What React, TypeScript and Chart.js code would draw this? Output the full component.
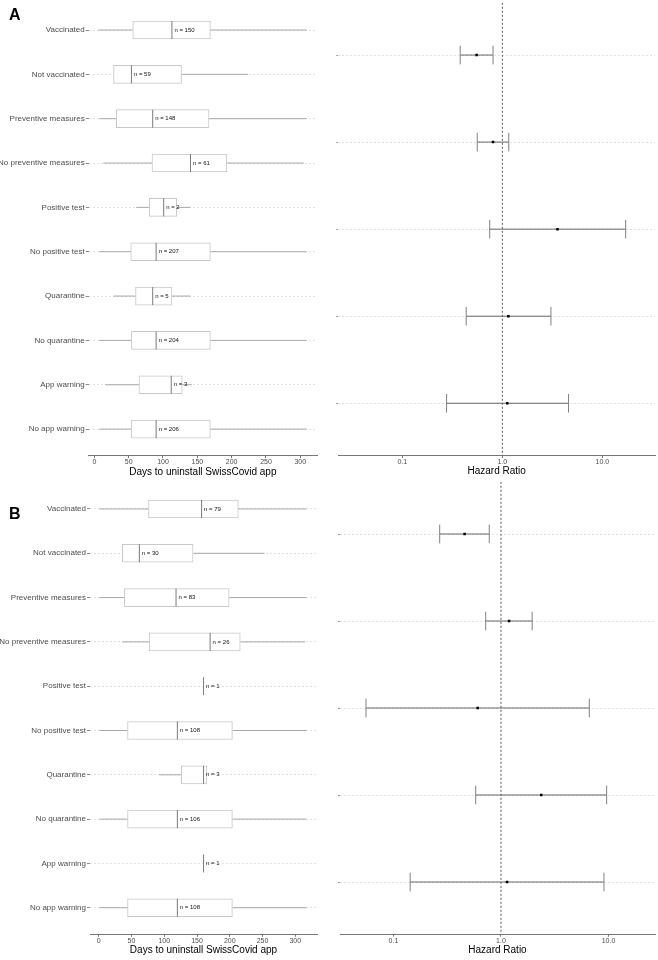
import React, { useEffect, useRef } from "react";
import { Chart, registerables } from "chart.js";

Chart.register(...registerables);

const FONT = "'Liberation Sans', Arial, Helvetica, sans-serif";
Chart.defaults.font.family = FONT;

// ---------- data ----------
const categories = [
  "Vaccinated",
  "Not vaccinated",
  "Preventive measures",
  "No preventive measures",
  "Positive test",
  "No positive test",
  "Quarantine",
  "No quarantine",
  "App warning",
  "No app warning",
];

const daysTicks = [0, 50, 100, 150, 200, 250, 300];
const hrTicks = [0.1, 1, 10];
const hrTickLabels = ["0.1", "1.0", "10.0"];

// Panel A – days to uninstall (box plot summaries)
const nA = [150, 59, 148, 61, 2, 207, 5, 204, 3, 206];
const minA = [6, 28, 7, 13, 61, 7, 28, 7, 16, 7];
const q1A = [56, 28, 32, 84, 80, 53, 60, 54, 65, 54];
const medA = [113, 54, 85, 140, 101, 90, 85, 90, 112, 90];
const q3A = [169, 127, 167, 193, 120, 169, 113, 169, 128, 169];
const maxA = [309, 224, 309, 305, 140, 309, 140, 309, 142, 309];

// Panel B – days to uninstall (box plot summaries)
const nB = [79, 30, 83, 26, 1, 108, 3, 106, 1, 108];
const minB = [1, 36, 1, 36, 160, 1, 92, 1, 160, 1];
const q1B = [76, 36, 39, 77, 160, 44, 126, 44, 160, 44];
const medB = [157, 62, 118, 170, 160, 120, 160, 120, 160, 120];
const q3B = [213, 144, 199, 216, 160, 204, 165, 204, 160, 204];
const maxB = [317, 253, 317, 315, 160, 317, 165, 317, 160, 317];

// Hazard ratios (5 comparisons each)
const hrA = [0.553, 0.807, 3.56, 1.15, 1.12];
const loA = [0.379, 0.561, 0.748, 0.435, 0.277];
const hiA = [0.807, 1.159, 17.1, 3.06, 4.59];

const hrB = [0.459, 1.19, 0.607, 2.37, 1.14];
const loB = [0.269, 0.721, 0.0555, 0.582, 0.143];
const hiB = [0.778, 1.95, 6.63, 9.62, 9.08];

// ---------- configs ----------
type BoxPanel = {
  n: number[];
  min: number[];
  q1: number[];
  med: number[];
  q3: number[];
  max: number[];
  xMin: number;
  xMax: number;
  padTop: number;
  padRight: number;
  yWidth: number;
  xHeight: number;
  titlePad: number;
};

function nLabelPlugin(n: number[], med: number[]) {
  return {
    id: "nLabels",
    afterDatasetsDraw(chart: any) {
      const { ctx, scales } = chart;
      const x = scales.x;
      const y = scales.y;
      ctx.save();
      ctx.font = `6px ${FONT}`;
      ctx.fillStyle = "#111111";
      ctx.textBaseline = "middle";
      ctx.textAlign = "left";
      n.forEach((v, i) => {
        ctx.fillText(`n = ${v}`, x.getPixelForValue(med[i]) + 2.5, y.getPixelForValue(i));
      });
      ctx.restore();
    },
  };
}

function fitX(h: number) {
  return (s: any) => {
    s.height = h;
    s.paddingLeft = 0;
    s.paddingRight = 0;
  };
}
function fitY(w: number) {
  return (s: any) => {
    s.width = w;
    s.paddingTop = 0;
    s.paddingBottom = 0;
  };
}

function boxConfig(d: BoxPanel): any {
  const whiskers: any[] = [];
  categories.forEach((_, i) => {
    if (d.min[i] < d.q1[i]) {
      whiskers.push({ x: d.min[i], y: i }, { x: d.q1[i], y: i }, { x: d.q1[i], y: null });
    }
    if (d.max[i] > d.q3[i]) {
      whiskers.push({ x: d.q3[i], y: i }, { x: d.max[i], y: i }, { x: d.max[i], y: null });
    }
  });
  return {
    type: "scatter",
    data: {
      datasets: [
        {
          type: "scatter",
          label: "whiskers",
          data: whiskers,
          showLine: true,
          spanGaps: false,
          borderColor: "#a9a9a9",
          borderWidth: 1,
          pointRadius: 0,
          order: 3,
        },
        {
          type: "bar",
          label: "IQR",
          indexAxis: "y",
          data: categories.map((_, i) => ({ x: [d.q1[i], d.q3[i]], y: i })),
          backgroundColor: "#ffffff",
          borderColor: "#c8c8c8",
          borderWidth: 1,
          borderSkipped: false,
          barThickness: 18,
          order: 2,
        },
        {
          type: "scatter",
          label: "median",
          data: categories.map((_, i) => ({ x: d.med[i], y: i })),
          pointStyle: "line",
          pointRotation: 90,
          pointRadius: 9,
          pointBorderColor: "#7a7a7a",
          pointBackgroundColor: "#7a7a7a",
          pointBorderWidth: 1,
          order: 1,
        },
      ],
    },
    options: {
      responsive: false,
      animation: false,
      events: [],
      layout: { autoPadding: false, padding: { left: 0, right: d.padRight, top: d.padTop, bottom: 0 } },
      plugins: { legend: { display: false }, tooltip: { enabled: false } },
      scales: {
        x: {
          type: "linear",
          min: d.xMin,
          max: d.xMax,
          offset: false,
          afterBuildTicks: (s: any) => {
            s.ticks = daysTicks.map((v) => ({ value: v }));
          },
          afterFit: fitX(d.xHeight),
          ticks: {
            font: { size: 7, family: FONT },
            color: "#4d4d4d",
            padding: 0,
            maxRotation: 0,
            autoSkip: false,
            callback: (v: number) => String(v),
          },
          grid: {
            display: true,
            offset: false,
            drawOnChartArea: false,
            drawTicks: true,
            tickLength: 2.5,
            tickColor: "#777777",
            tickWidth: 1,
          },
          border: { display: true, color: "#777777", width: 1 },
          title: {
            display: true,
            text: "Days to uninstall SwissCovid app",
            font: { size: 10, family: FONT },
            color: "#000000",
            padding: { top: 0, bottom: d.titlePad },
          },
        },
        y: {
          type: "linear",
          reverse: true,
          offset: false,
          min: -0.6,
          max: categories.length - 1 + 0.6,
          afterBuildTicks: (s: any) => {
            s.ticks = categories.map((_, i) => ({ value: i }));
          },
          afterFit: fitY(d.yWidth),
          ticks: {
            callback: (v: number) => categories[v] ?? "",
            font: { size: 8, family: FONT },
            color: "#4d4d4d",
            padding: 1,
            autoSkip: false,
          },
          grid: {
            offset: false,
            color: "#e2e2e2",
            lineWidth: 1,
            drawTicks: true,
            tickLength: 3,
            tickColor: "#8c8c8c",
            tickBorderDash: [],
          },
          border: { display: false, dash: [2, 2] },
        },
      },
    },
    plugins: [nLabelPlugin(d.n, d.med)],
  };
}

type ForestPanel = {
  hr: number[];
  lo: number[];
  hi: number[];
  xMin: number;
  xMax: number;
  padTop: number;
  padRight: number;
  yWidth: number;
  xHeight: number;
  titlePad: number;
};

function forestConfig(d: ForestPanel): any {
  const rows = d.hr.length;
  const ci: any[] = [];
  d.hr.forEach((_, i) => {
    ci.push({ x: d.lo[i], y: i }, { x: d.hi[i], y: i }, { x: d.hi[i], y: null });
  });
  const caps: any[] = [];
  d.hr.forEach((_, i) => {
    caps.push({ x: d.lo[i], y: i }, { x: d.hi[i], y: i });
  });
  return {
    type: "scatter",
    data: {
      datasets: [
        {
          type: "scatter",
          label: "ref",
          data: [
            { x: 1, y: -0.6 },
            { x: 1, y: rows - 1 + 0.6 },
          ],
          showLine: true,
          borderColor: "#555555",
          borderWidth: 1,
          borderDash: [2, 2],
          pointRadius: 0,
          order: 4,
        },
        {
          type: "scatter",
          label: "ci",
          data: ci,
          showLine: true,
          spanGaps: false,
          borderColor: "#666666",
          borderWidth: 1,
          pointRadius: 0,
          order: 3,
        },
        {
          type: "scatter",
          label: "caps",
          data: caps,
          pointStyle: "line",
          pointRotation: 90,
          pointRadius: 9.3,
          pointBorderColor: "#808080",
          pointBackgroundColor: "#808080",
          pointBorderWidth: 1,
          order: 2,
        },
        {
          type: "scatter",
          label: "HR",
          data: d.hr.map((v, i) => ({ x: v, y: i })),
          pointStyle: "rect",
          pointRadius: 1.8,
          pointBackgroundColor: "#000000",
          pointBorderColor: "#000000",
          pointBorderWidth: 0,
          order: 1,
        },
      ],
    },
    options: {
      responsive: false,
      animation: false,
      events: [],
      layout: { autoPadding: false, padding: { left: 0, right: d.padRight, top: d.padTop, bottom: 0 } },
      plugins: { legend: { display: false }, tooltip: { enabled: false } },
      scales: {
        x: {
          type: "logarithmic",
          min: d.xMin,
          max: d.xMax,
          offset: false,
          afterBuildTicks: (s: any) => {
            s.ticks = hrTicks.map((v) => ({ value: v }));
          },
          afterFit: fitX(d.xHeight),
          ticks: {
            font: { size: 7, family: FONT },
            color: "#4d4d4d",
            padding: 0,
            maxRotation: 0,
            autoSkip: false,
            callback: (v: number) => {
              const k = hrTicks.indexOf(v);
              return k >= 0 ? hrTickLabels[k] : "";
            },
          },
          grid: {
            display: true,
            offset: false,
            drawOnChartArea: false,
            drawTicks: true,
            tickLength: 2.5,
            tickColor: "#777777",
            tickWidth: 1,
          },
          border: { display: true, color: "#777777", width: 1 },
          title: {
            display: true,
            text: "Hazard Ratio",
            font: { size: 10, family: FONT },
            color: "#000000",
            padding: { top: 0, bottom: d.titlePad },
          },
        },
        y: {
          type: "linear",
          reverse: true,
          offset: false,
          min: -0.6,
          max: rows - 1 + 0.6,
          afterBuildTicks: (s: any) => {
            s.ticks = d.hr.map((_, i) => ({ value: i }));
          },
          afterFit: fitY(d.yWidth),
          ticks: {
            display: false,
            callback: () => "",
            padding: 0,
            autoSkip: false,
          },
          grid: {
            offset: false,
            color: "#e2e2e2",
            lineWidth: 1,
            drawTicks: true,
            tickLength: 2,
            tickColor: "#9a9a9a",
            tickBorderDash: [],
          },
          border: { display: false, dash: [2, 2] },
        },
      },
    },
  };
}

// ---------- components ----------
function ChartBox(props: { make: () => any; left: number; top: number; width: number; height: number }) {
  const ref = useRef<HTMLCanvasElement>(null);
  useEffect(() => {
    const chart = new Chart(ref.current as HTMLCanvasElement, props.make());
    return () => chart.destroy();
  }, []);
  return (
    <canvas
      ref={ref}
      width={props.width}
      height={props.height}
      style={{
        position: "absolute",
        left: props.left,
        top: props.top,
        width: props.width,
        height: props.height,
        display: "block",
      }}
    />
  );
}

const letterStyle: React.CSSProperties = {
  position: "absolute",
  left: 9,
  fontFamily: FONT,
  fontWeight: "bold",
  fontSize: 16,
  lineHeight: "16px",
  color: "#000",
};

export default function App() {
  return (
    <div
      style={{
        position: "absolute",
        left: 0,
        top: 0,
        width: 658,
        height: 960,
        background: "#ffffff",
        overflow: "hidden",
      }}
    >
      <ChartBox
        left={0}
        top={0}
        width={330}
        height={480}
        make={() =>
          boxConfig({
            n: nA, min: minA, q1: q1A, med: medA, q3: q3A, max: maxA,
            xMin: -8.2, xMax: 324.3,
            padTop: 3.4, padRight: 13, yWidth: 88.7, xHeight: 24.3, titlePad: 1.6,
          })
        }
      />
      <ChartBox
        left={330}
        top={0}
        width={328}
        height={480}
        make={() =>
          forestConfig({
            hr: hrA, lo: loA, hi: hiA,
            xMin: 0.0229, xMax: 33.6,
            padTop: 2.8, padRight: 3, yWidth: 8.3, xHeight: 24.5, titlePad: 2.5,
          })
        }
      />
      <ChartBox
        left={0}
        top={480}
        width={330}
        height={480}
        make={() =>
          boxConfig({
            n: nB, min: minB, q1: q1B, med: medB, q3: q3B, max: maxB,
            xMin: -13.3, xMax: 333.1,
            padTop: 2.4, padRight: 13, yWidth: 90, xHeight: 25.7, titlePad: 3.3,
          })
        }
      />
      <ChartBox
        left={330}
        top={480}
        width={328}
        height={480}
        make={() =>
          forestConfig({
            hr: hrB, lo: loB, hi: hiB,
            xMin: 0.0318, xMax: 27.1,
            padTop: 1.8, padRight: 3, yWidth: 10, xHeight: 25.8, titlePad: 4,
          })
        }
      />
      <div style={{ ...letterStyle, top: 7 }}>A</div>
      <div style={{ ...letterStyle, top: 506 }}>B</div>
    </div>
  );
}
